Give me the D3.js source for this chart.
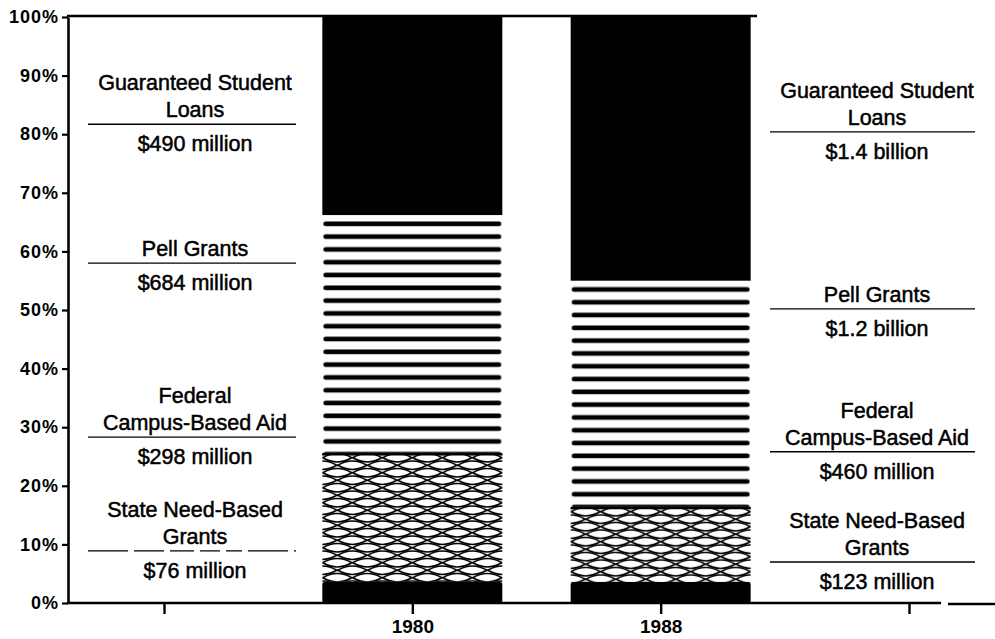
<!DOCTYPE html>
<html><head><meta charset="utf-8">
<script src="https://cdn.jsdelivr.net/npm/d3@7"></script>
<style>body{margin:0;background:#fff;} svg{display:block;}</style>
</head><body><svg id="chart" width="995" height="639"></svg>
<script>
// ---------- data ----------
const categories = ["1980", "1988"];
const seriesNames = ["State Need-Based Grants", "Federal Campus-Based Aid", "Pell Grants", "Guaranteed Student Loans"];
const share1980 = [3.6, 22.0, 40.6, 33.8];   // percent of total, bottom to top
const share1988 = [3.6, 12.8, 38.6, 45.0];
const amounts1980 = ["$76 million", "$298 million", "$684 million", "$490 million"];
const amounts1988 = ["$123 million", "$460 million", "$1.2 billion", "$1.4 billion"];
const labelLines = [["State Need-Based", "Grants"], ["Federal", "Campus-Based Aid"], ["Pell Grants"], ["Guaranteed Student", "Loans"]];
const yTicks = [0, 10, 20, 30, 40, 50, 60, 70, 80, 90, 100];

// ---------- layout ----------
const layout = {
  left:  { cx: 195, x0: 88, x1: 296, rules: [8.9, 28.3, 58.0, 81.7], dashed: [true, false, false, false] },
  right: { cx: 877, x0: 770, x1: 975, rules: [7.0, 25.8, 50.2, 80.4], dashed: [false, false, false, false] }
};
const FONT = "'Liberation Sans', Arial, Helvetica, sans-serif";

const svg = d3.select("#chart");
const defs = svg.append("defs");

const y = d3.scaleLinear().domain([0, 100]).range([603, 17]);
const slots = ["pre", ...categories, "post"];
const x = d3.scalePoint().domain(slots).range([164, 909]);
const barW = 180;

// stacked table
const table = categories.map((c, i) => {
  const src = i === 0 ? share1980 : share1988;
  const row = { year: c };
  seriesNames.forEach((s, k) => row[s] = src[k]);
  return row;
});
const stacked = d3.stack().keys(seriesNames)(table);

// ---------- bars ----------
const kinds = ["solid", "hatch", "stripe", "solid"];
const lens = (cx, cy, hw, hh) => `M${cx - hw},${cy} Q${cx},${cy - 2 * hh} ${cx + hw},${cy} Q${cx},${cy + 2 * hh} ${cx - hw},${cy} Z`;
stacked.forEach((layer, si) => {
  layer.forEach((d, bi) => {
    const x0 = x(d.data.year) - barW / 2;
    const top = y(d[1]), bot = y(d[0]);
    const h = bot - top;
    let fill = "#000";
    if (kinds[si] === "stripe") {
      const id = `stripe-${bi}`;
      const p = defs.append("pattern").attr("id", id).attr("patternUnits", "userSpaceOnUse")
        .attr("x", x0).attr("y", top).attr("width", barW).attr("height", 12.8);
      p.append("rect").attr("x", 0).attr("y", 0).attr("width", barW).attr("height", 12.8).attr("fill", "#fff");
      p.append("rect").attr("x", 1).attr("y", 6.5).attr("width", barW - 2).attr("height", 4.6).attr("rx", 2.3).attr("fill", "#000");
      fill = `url(#${id})`;
    } else if (kinds[si] === "hatch") {
      const id = `hatch-${bi}`;
      const tw = 30, th = 15;
      const p = defs.append("pattern").attr("id", id).attr("patternUnits", "userSpaceOnUse")
        .attr("x", x0).attr("y", top + 1).attr("width", tw).attr("height", th);
      p.append("rect").attr("width", tw).attr("height", th).attr("fill", "#fff");
      [[tw / 2, th / 4], [tw / 2, th / 4 + th], [0, 3 * th / 4], [tw, 3 * th / 4], [0, 3 * th / 4 - th], [tw, 3 * th / 4 - th]]
        .forEach(([cx, cy]) => {
          p.append("path").attr("d", lens(cx, cy, tw / 2 - 0.5, 4.2))
            .attr("fill", "none").attr("stroke", "#000").attr("stroke-width", 1.6);
        });
      fill = `url(#${id})`;
    }
    svg.append("rect").attr("x", x0).attr("y", top).attr("width", barW).attr("height", h)
      .attr("fill", fill).attr("rx", kinds[si] === "solid" && si === 0 ? 2 : 0);
    if (kinds[si] === "hatch") {
      svg.append("line").attr("x1", x0).attr("x2", x0 + barW).attr("y1", top + 1.2).attr("y2", top + 1.2)
        .attr("stroke", "#000").attr("stroke-width", 2.4);
    }
  });
});

// ---------- axes ----------
const yAxis = svg.append("g").attr("transform", "translate(68,0)")
  .call(d3.axisLeft(y).tickValues(yTicks).tickFormat(d => d + "%").tickSize(6).tickSizeOuter(0).tickPadding(3));
yAxis.select(".domain").attr("stroke", "#000").attr("stroke-width", 2.6);
yAxis.selectAll(".tick line").attr("stroke", "#000").attr("stroke-width", 2.2);
yAxis.selectAll(".tick text").attr("font-family", FONT).attr("font-size", 18).attr("font-weight", "bold")
  .attr("letter-spacing", "1px").attr("fill", "#000");

// top rule and baseline
svg.append("line").attr("x1", 67).attr("x2", 757).attr("y1", y(100) - 1).attr("y2", y(100) - 1)
  .attr("stroke", "#000").attr("stroke-width", 2.6);
svg.append("line").attr("x1", 67).attr("x2", 941).attr("y1", y(0)).attr("y2", y(0))
  .attr("stroke", "#000").attr("stroke-width", 2.6);
svg.append("line").attr("x1", 948).attr("x2", 995).attr("y1", y(0) + 1).attr("y2", y(0) + 1)
  .attr("stroke", "#000").attr("stroke-width", 2.6);

const xAxis = svg.append("g").attr("transform", `translate(0,${y(0)})`)
  .call(d3.axisBottom(x).tickSize(11).tickSizeOuter(0).tickPadding(6)
    .tickFormat(d => categories.includes(d) ? d : ""));
xAxis.select(".domain").remove();
xAxis.selectAll(".tick line").attr("stroke", "#000").attr("stroke-width", 2.4);
xAxis.selectAll(".tick text").attr("font-family", FONT).attr("font-size", 19).attr("font-weight", "bold")
  .attr("fill", "#000");

// ---------- annotations ----------
[[layout.left, amounts1980], [layout.right, amounts1988]].forEach(([L, amounts]) => {
  const g = svg.append("g").attr("font-family", FONT).attr("font-size", 21.5).attr("fill", "#000")
    .attr("stroke", "#000").attr("stroke-width", 0.5).attr("text-anchor", "middle");
  seriesNames.forEach((s, i) => {
    const ry = y(L.rules[i]);
    svg.append("line").attr("x1", L.x0).attr("x2", L.x1).attr("y1", ry).attr("y2", ry)
      .attr("stroke", "#000").attr("stroke-width", 1.4)
      .attr("stroke-dasharray", L.dashed[i] ? "40,6,30,6,24,6,20,6,16,6" : null);
    const lines = labelLines[i];
    lines.forEach((t, j) => {
      g.append("text").attr("x", L.cx).attr("y", ry - 7 - (lines.length - 1 - j) * 27).text(t);
    });
    g.append("text").attr("x", L.cx).attr("y", ry + 27).text(amounts[i]);
  });
});
</script>
</body></html>
